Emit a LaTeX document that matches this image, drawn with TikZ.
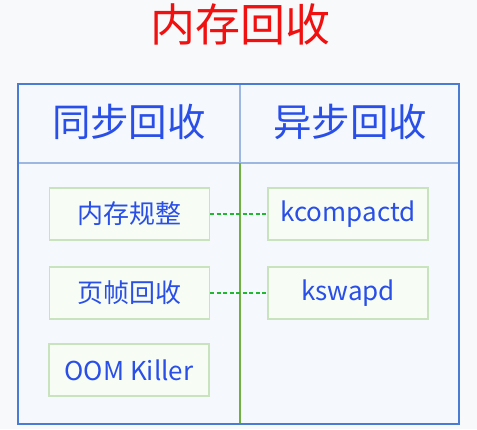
\documentclass[tikz,border=0pt]{standalone}
\usepackage{fontspec}
\setmainfont{Noto Sans CJK SC}
\definecolor{pagebg}{HTML}{F8F9FA}
\definecolor{panelbg}{HTML}{F5F9FE}
\definecolor{outerline}{HTML}{4A7CD4}
\definecolor{innerline}{HTML}{9DB8E0}
\definecolor{greenline}{HTML}{6FB040}
\definecolor{boxline}{HTML}{C8E3BE}
\definecolor{boxfill}{HTML}{F7FDF5}
\definecolor{txtblue}{HTML}{2A4FE8}
\definecolor{dashgreen}{HTML}{1FB82E}
\definecolor{titlered}{HTML}{F01010}
\tikzset{
  itembox/.style={draw=boxline, line width=1.2pt, fill=boxfill, minimum width=160pt, minimum height=52pt, inner sep=0pt, text=txtblue, font=\fontsize{26}{30}\selectfont},
  headtxt/.style={text=txtblue, font=\fontsize{38.5}{42}\selectfont},
  link/.style={draw=dashgreen, dash pattern=on 4pt off 2.5pt, line width=1.5pt}
}
\begin{document}
\begin{tikzpicture}[x=1pt,y=-1pt]
\useasboundingbox (0,0) rectangle (477,429);
\fill[pagebg] (0,0) rectangle (477,429);
\node[text=titlered, font=\fontsize{45}{48}\selectfont] (title) at (240,24) {内存回收};
\fill[panelbg] (18,84) rectangle (459,424);
\draw[innerline, line width=1.3pt] (18,163) -- (459,163);
\draw[innerline, line width=1.3pt] (240,84) -- (240,163);
\draw[greenline, line width=1.6pt] (240,163) -- (240,424);
\draw[outerline, line width=1.5pt] (18,84) rectangle (459,424);
\node[headtxt] (sync) at (129,122) {同步回收};
\node[headtxt] (async) at (350,122) {异步回收};
\node[itembox] (compact) at (129.5,214) {内存规整};
\node[itembox] (kcompactd) at (348,214) {kcompactd};
\node[itembox] (reclaim) at (129.5,293) {页帧回收};
\node[itembox] (kswapd) at (348,293) {kswapd};
\node[itembox] (oom) at (129,370) {OOM Killer};
\draw[link] (compact) -- (kcompactd);
\draw[link] (reclaim) -- (kswapd);
\end{tikzpicture}
\end{document}
